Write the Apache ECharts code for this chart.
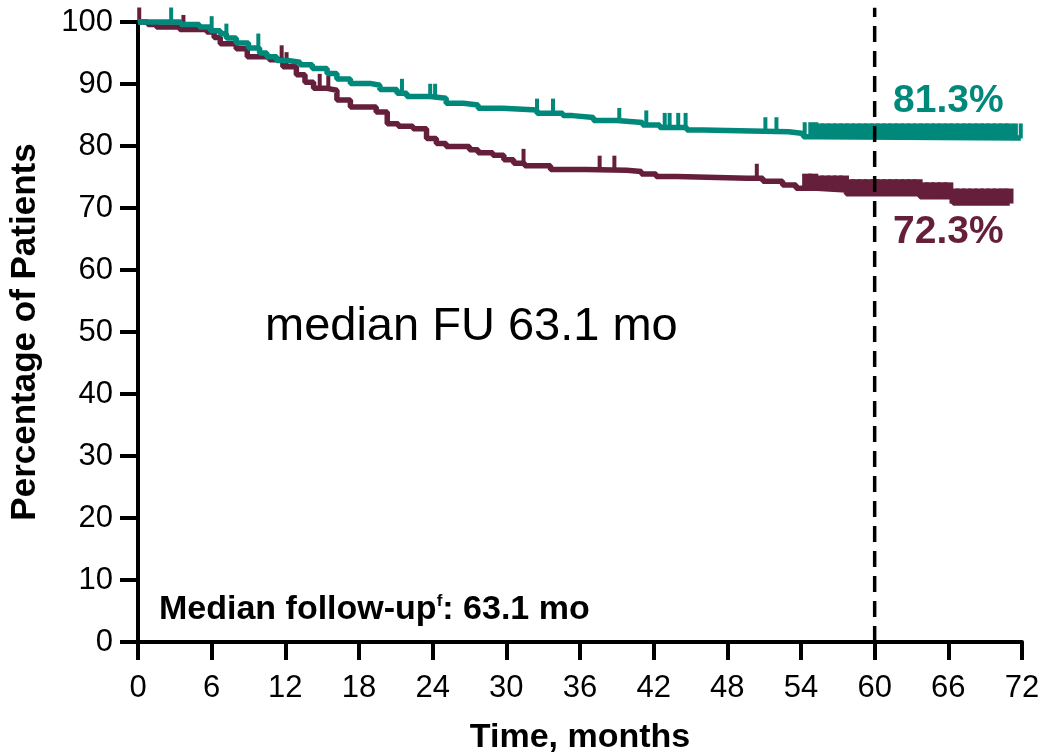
<!DOCTYPE html>
<html>
<head>
<meta charset="utf-8">
<script src="https://cdn.jsdelivr.net/npm/echarts@6/dist/echarts.min.js"></script>
<style>
html,body{margin:0;padding:0;background:#fff;}
#chart{width:1045px;height:753px;}
</style>
</head>
<body>
<div id="chart"></div>
<script>
// ---- data ----
var xTicks = [0, 6, 12, 18, 24, 30, 36, 42, 48, 54, 60, 66, 72];
var yTicks = [0, 10, 20, 30, 40, 50, 60, 70, 80, 90, 100];

// Kaplan-Meier step points [month, percent]
var tealCurve = [
  [0,100],[2.8,100],[3.5,99.6],[5,99.2],[5.9,98.6],[6.7,98.1],[7.2,97.4],[8,96.6],[9,95.8],
  [9.9,95.0],[10.5,94.4],[11.3,93.8],[12.2,93.5],[13.2,93.1],[14.2,92.5],[15.4,91.7],[16.2,90.8],
  [17.3,90.1],[18.9,89.8],[19.7,89.1],[21.1,88.5],[21.9,88.0],[23.8,87.7],[25.1,86.9],[26.5,86.6],
  [27.7,86.1],[29.7,85.8],[32.5,85.3],[34.6,84.9],[35.4,84.6],[37.1,84.1],[39,83.8],[41.1,83.4],
  [42.5,83.0],[44.7,82.6],[46,82.3],[53,82.0],[54.2,81.5],[55.3,81.3],[71.9,81.3]
];
var maroonCurve = [
  [0,100],[0.8,99.6],[1.5,99.2],[3.4,98.8],[5.6,98.4],[6.2,97.5],[6.7,96.5],[8,95.7],[8.9,94.4],
  [10.7,93.9],[11.8,92.8],[12.9,91.5],[13.6,90.3],[14.3,89.3],[15.4,89.0],[16.2,87.4],[17.3,86.3],
  [19.4,85.5],[20.3,83.6],[21.2,83.2],[22.4,82.8],[23.5,81.2],[24.3,80.4],[25.1,79.9],[27,79.4],
  [27.7,78.9],[28.9,78.5],[29.8,77.8],[30.6,77.2],[31.5,76.8],[33.6,76.2],[36.5,76.1],[39.8,75.9],
  [41,75.5],[42.2,75.1],[43.9,74.8],[49.6,74.8],[50.9,74.3],[52.5,73.7],[53.6,73.2],[55.3,72.9],
  [57.7,72.3],[63.7,71.8],[66.4,70.8],[71.0,70.8]
];

// censored observations (months)
var tealCensorSparse = [2.7, 6.0, 7.2, 9.8, 21.5, 23.8, 24.2, 32.5, 33.8, 39.2, 41.4, 42.9, 43.3, 44.0, 44.6, 51.1, 52.0, 54.3, 71.5, 71.9];
var tealCensorDense = [55.0, 55.5, 56.0, 56.5, 57.0, 57.5, 58.0, 58.5, 59.0, 59.5, 60.0, 60.5, 61.0, 61.5, 62.0, 62.5, 63.0, 63.5, 64.0, 64.5, 65.0, 65.5, 66.0, 66.5, 67.0, 67.5, 68.0, 68.5, 69.0, 69.5, 70.0, 70.5, 71.0];
var maroonCensorSparse = [0.1, 3.7, 11.7, 12.1, 14.8, 15.5, 31.4, 37.6, 38.8, 50.4];
var maroonCensorDense = [54.5, 55.0, 55.5, 56.0, 56.5, 57.0, 57.5, 58.0, 58.5, 59.0, 59.5, 60.0, 60.5, 61.0, 61.5, 62.0, 62.5, 63.0, 63.5, 64.0, 64.5, 65.0, 65.5, 66.0, 66.5, 67.0, 67.5, 68.0, 68.5, 69.0, 69.5, 70.0, 70.5, 70.9];

var refMonth = 60;
var refTop = 102.3;
var tealLabel = '81.3%';
var maroonLabel = '72.3%';

// ---- helpers ----
function survivalAt(curve, t) {
  var v = curve[0][1];
  for (var i = 0; i < curve.length; i++) { if (curve[i][0] <= t) v = curve[i][1]; else break; }
  return v;
}
function censorPts(curve, times) { return times.map(function (t) { return [t, survivalAt(curve, t)]; }); }

var TEAL = '#00897A';
var MAROON = '#651F3B';
var FONT = 'Liberation Sans, Arial, sans-serif';

var chart = echarts.init(document.getElementById('chart'), null, {renderer: 'canvas'});
var option = {
  backgroundColor: '#ffffff',
  animation: false,
  grid: {left: 138, right: 23, top: 22, bottom: 111, containLabel: false, outerBoundsMode: 'none'},
  xAxis: {
    type: 'value', min: 0, max: 72, interval: 6,
    name: 'Time, months', nameLocation: 'middle', nameGap: 79,
    nameTextStyle: {fontFamily: FONT, fontSize: 34, fontWeight: 'bold', color: '#000'},
    axisLine: {show: true, lineStyle: {color: '#000', width: 4}},
    axisTick: {show: true, length: 18, lineStyle: {color: '#000', width: 4}},
    axisLabel: {fontFamily: FONT, fontSize: 31, color: '#000', margin: 31,
      formatter: function (v) { return xTicks.indexOf(v) >= 0 ? String(v) : ''; }},
    splitLine: {show: false}
  },
  yAxis: {
    type: 'value', min: 0, max: 100, interval: 10,
    name: 'Percentage of Patients', nameLocation: 'middle', nameGap: 95,
    nameTextStyle: {fontFamily: FONT, fontSize: 35, fontWeight: 'bold', color: '#000'},
    axisLine: {show: true, lineStyle: {color: '#000', width: 4}},
    axisTick: {show: true, length: 18, lineStyle: {color: '#000', width: 4}},
    axisLabel: {fontFamily: FONT, fontSize: 31, color: '#000', margin: 25,
      formatter: function (v) { return yTicks.indexOf(v) >= 0 ? String(v) : ''; }},
    splitLine: {show: false}
  },
  series: [
    {type: 'line', data: maroonCurve, step: 'end', symbol: 'none', clip: false,
     lineStyle: {color: MAROON, width: 5.5}, z: 2},
    {type: 'scatter', data: censorPts(maroonCurve, maroonCensorSparse), symbol: 'rect',
     symbolSize: [4, 15], symbolOffset: [0, -7], itemStyle: {color: MAROON, opacity: 1}, clip: false, z: 2},
    {type: 'scatter', data: censorPts(maroonCurve, maroonCensorDense), symbol: 'rect',
     symbolSize: [10, 15], symbolOffset: [0, -7], itemStyle: {color: MAROON, opacity: 1}, clip: false, z: 2},
    {type: 'line', data: tealCurve, step: 'end', symbol: 'none', clip: false,
     lineStyle: {color: TEAL, width: 5.5}, z: 3},
    {type: 'scatter', data: censorPts(tealCurve, tealCensorSparse), symbol: 'rect',
     symbolSize: [4, 15], symbolOffset: [0, -7], itemStyle: {color: TEAL, opacity: 1}, clip: false, z: 3},
    {type: 'scatter', data: censorPts(tealCurve, tealCensorDense), symbol: 'rect',
     symbolSize: [10, 15], symbolOffset: [0, -7], itemStyle: {color: TEAL, opacity: 1}, clip: false, z: 3},
    {type: 'line', data: [[refMonth, 0], [refMonth, refTop]], symbol: 'none', clip: false,
     lineStyle: {color: '#000', width: 3.5, type: [16, 9]}, z: 5}
  ],
  graphic: [
    {type: 'text', left: 893, top: 82, z: 10,
     style: {text: tealLabel, fill: TEAL, font: 'bold 39px ' + FONT}},
    {type: 'text', left: 893, top: 213, z: 10,
     style: {text: maroonLabel, fill: MAROON, font: 'bold 39px ' + FONT}},
    {type: 'text', left: 265, top: 304, z: 10,
     style: {text: 'median FU 63.1 mo', fill: '#000', font: '47px ' + FONT}},
    {type: 'text', left: 159, top: 593, z: 10,
     style: {
       text: '{a|Median follow-up}{s|f}{a|: 63.1 mo}',
       rich: {
         a: {font: 'bold 34px ' + FONT, fill: '#000', verticalAlign: 'bottom'},
         s: {font: 'bold 17px ' + FONT, fill: '#000', verticalAlign: 'top', padding: [0, 0, 16, 0]}
       }
     }}
  ]
};
chart.setOption(option);
</script>
</body>
</html>
